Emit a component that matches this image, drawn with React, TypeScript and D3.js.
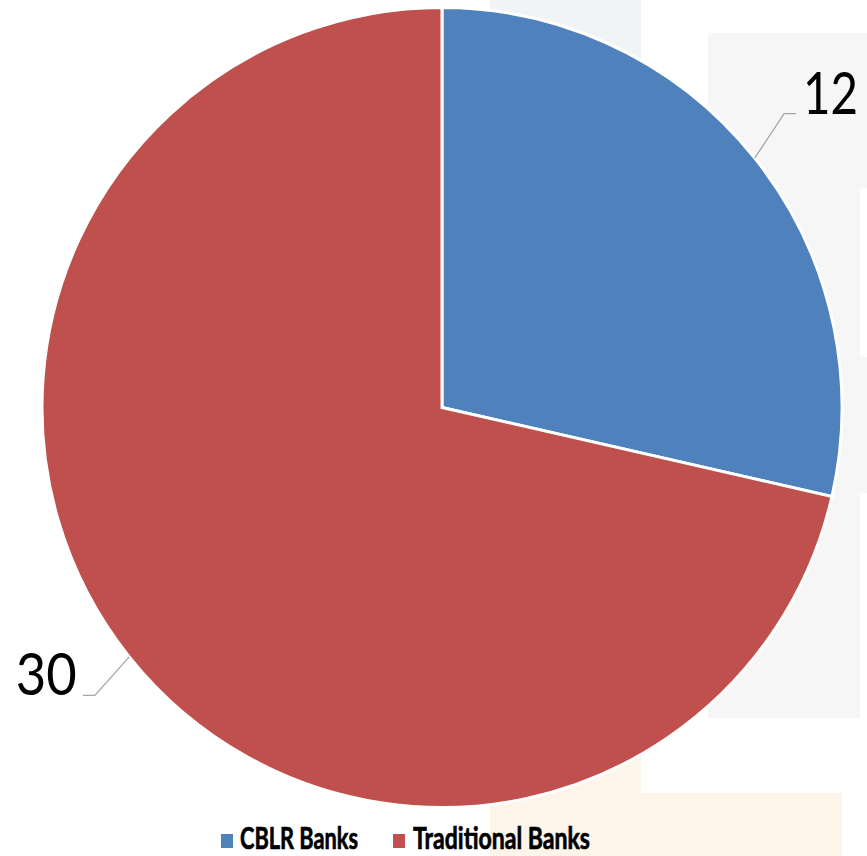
import React from "react";
import * as d3 from "d3";

const categories = ["CBLR Banks", "Traditional Banks"];
const values = [12, 30];
const colors = ["#4f81bd", "#c0504d"];
const labelTexts = ["12", "30"];

const W = 867;
const H = 856;

export default function App() {
  const cx = 442;
  const cy = 407.5;
  const r = 400;
  const pie = d3
    .pie<number>()
    .sort(null)
    .value((d) => d)
    .startAngle(0)
    .endAngle(2 * Math.PI);
  const arcs = pie(values);
  const arc = d3.arc<d3.PieArcDatum<number>>().innerRadius(0).outerRadius(r);

  const labelWidths = [55, 61];
  const angleOffsets = [-2.1, -1.1].map((d) => (d * Math.PI) / 180);
  const polar = (ang: number, rad: number): [number, number] => [
    rad * Math.sin(ang),
    -rad * Math.cos(ang),
  ];

  return (
    <svg
      width={W}
      height={H}
      style={{ position: "fixed", left: 0, top: 0, background: "#ffffff" }}
    >
      {/* faint background blocks */}
      <rect x={490} y={0} width={151} height={760} fill="#f2f3f5" />
      <rect x={708} y={33} width={152} height={685} fill="#f6f6f6" />
      <rect x={860} y={33} width={7} height={155} fill="#f6f6f6" />
      <rect x={860} y={357} width={7} height={136} fill="#f6f6f6" />
      <rect x={490} y={760} width={151} height={96} fill="#fdf5ea" />
      <rect x={641} y={793} width={201} height={63} fill="#fdf5ea" />

      <g transform={`translate(${cx},${cy})`}>
        {arcs.map((a, i) => (
          <path
            key={i}
            d={arc(a) as string}
            fill={colors[i]}
            stroke="#ffffff"
            strokeWidth={3}
            strokeLinejoin="miter"
          />
        ))}
        {arcs.map((a, i) => {
          const mid = (a.startAngle + a.endAngle) / 2;
          const [x0, y0] = polar(mid, r);
          const [x1, y1] = polar(mid + angleOffsets[i], 451);
          const right = x1 > 0;
          const x2 = x1 + (right ? 12 : -12);
          return (
            <g key={"l" + i}>
              <polyline
                points={`${x0},${y0} ${x1},${y1} ${x2},${y1}`}
                fill="none"
                stroke="#a6a6a6"
                strokeWidth={1.3}
              />
              <text
                x={right ? x2 + 7 : x2 - 6}
                y={y1}
                textAnchor={right ? "start" : "end"}
                fontFamily="Lato, 'Open Sans', sans-serif"
                fontSize={58}
                fill="#000000"
                textLength={labelWidths[i]}
                lengthAdjust="spacingAndGlyphs"
              >
                {labelTexts[i]}
              </text>
            </g>
          );
        })}
      </g>

      {/* legend */}
      <g>
        <rect x={221} y={834} width={12} height={14} fill={colors[0]} />
        <text
          x={240}
          y={849}
          fontFamily="Lato, 'Open Sans', sans-serif"
          fontWeight={700}
          fontSize={31}
          fill="#000000"
          stroke="#000000"
          strokeWidth={0.7}
          textLength={118}
          lengthAdjust="spacingAndGlyphs"
        >
          {categories[0]}
        </text>
        <rect x={393} y={834} width={12} height={14} fill={colors[1]} />
        <text
          x={413}
          y={849}
          fontFamily="Lato, 'Open Sans', sans-serif"
          fontWeight={700}
          fontSize={31}
          fill="#000000"
          stroke="#000000"
          strokeWidth={0.7}
          textLength={177}
          lengthAdjust="spacingAndGlyphs"
        >
          {categories[1]}
        </text>
      </g>
    </svg>
  );
}
